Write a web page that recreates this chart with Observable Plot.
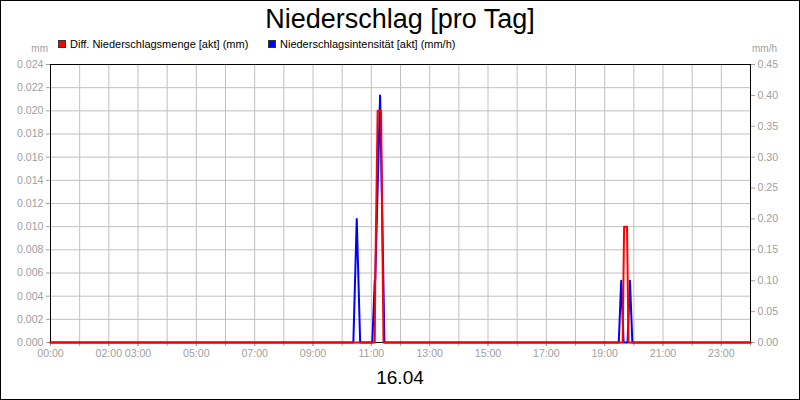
<!DOCTYPE html>
<html>
<head>
<meta charset="utf-8">
<script src="https://cdn.jsdelivr.net/npm/d3@7"></script>
<script src="https://cdn.jsdelivr.net/npm/@observablehq/plot@0.6"></script>
<style>
  html, body { margin: 0; padding: 0; background: white; }
  svg { display: block; }
</style>
</head>
<body>
<div id="chart"></div>
<script>
// ---- data ----
const titleText = "Niederschlag [pro Tag]";
const dateLabel = "16.04";
const seriesNames = ["Diff. Niederschlagsmenge [akt] (mm)", "Niederschlagsintensität [akt] (mm/h)"];
const leftUnit = "mm";
const rightUnit = "mm/h";

const redTimes  = ["00:00","11:07","11:08","11:13","11:20","11:25","19:37","19:40","19:46","19:49","24:00"];
const redValues = [0, 0, 0.0053, 0.02, 0.02, 0, 0, 0.01, 0.01, 0, 0];

const blueTimes  = ["00:00","10:23","10:30","10:37","11:02","11:07","11:08","11:18","11:27","19:29","19:34","19:39","19:47","19:52","19:57","24:00"];
const blueValues = [0, 0, 0.2, 0, 0, 0.1, 0.1, 0.4, 0, 0, 0.1, 0, 0, 0.1, 0, 0];

const leftTicks  = [0,0.002,0.004,0.006,0.008,0.010,0.012,0.014,0.016,0.018,0.020,0.022,0.024];
const rightTicks = [0,0.05,0.10,0.15,0.20,0.25,0.30,0.35,0.40,0.45];
const xLabels = ["00:00","02:00","03:00","05:00","07:00","09:00","11:00","13:00","15:00","17:00","19:00","21:00","23:00"];
const hours = d3.range(0, 25);

// ---- build ----
const parse = s => { const [h, m] = s.split(":").map(Number); return new Date(Date.UTC(2024, 3, 16, h, m)); };
const k = 0.024 / 0.45; // right-axis -> left-axis factor
const red = redTimes.map((t, i) => ({t: parse(t), v: redValues[i]}));
const blue = blueTimes.map((t, i) => ({t: parse(t), v: blueValues[i] * k}));
const hourTicks = hours.map(h => new Date(Date.UTC(2024, 3, 16, h, 0)));
const labelTicks = xLabels.map(parse);
const fmt = d3.utcFormat("%H:%M");
const gray = "#a0a0a0";
const font = "'Liberation Sans', Arial, sans-serif";

const chart = Plot.plot({
  width: 800, height: 400,
  marginTop: 64, marginBottom: 58, marginLeft: 50, marginRight: 50,
  style: {fontFamily: font, fontSize: "10.6px", background: "white"},
  x: {type: "utc", domain: [parse("00:00"), parse("24:00")]},
  y: {domain: [0, 0.024]},
  marks: [
    Plot.gridX(hourTicks, {stroke: "#c0c0c0", strokeOpacity: 1}),
    Plot.gridY(leftTicks, {stroke: "#c0c0c0", strokeOpacity: 1}),
    Plot.axisY(leftTicks, {anchor: "left", tickSize: 4, tickPadding: 3, tickFormat: d => d.toFixed(3), color: gray, label: null}),
    Plot.axisY(rightTicks.map(t => t * k), {anchor: "right", tickSize: 4, tickPadding: 3, tickFormat: d => (d / k).toFixed(2), color: gray, label: null}),
    Plot.axisX(hourTicks, {anchor: "bottom", tickSize: 4, tickPadding: 3, tickFormat: () => "", color: gray, label: null}),
    Plot.axisX(labelTicks, {anchor: "bottom", tickSize: 4, tickPadding: 3, tickFormat: fmt, color: gray, label: null}),
    Plot.frame({stroke: "black"}),
    Plot.line(blue, {x: "t", y: "v", stroke: "#0000ff", strokeWidth: 2}),
    Plot.line(red, {x: "t", y: "v", stroke: "#ff0000", strokeWidth: 2})
  ]
});

document.getElementById("chart").append(chart);

const svg = d3.select(chart);
svg.append("rect").attr("x", 0.5).attr("y", 0.5).attr("width", 799).attr("height", 399)
  .attr("fill", "none").attr("stroke", "black");
svg.append("text").attr("x", 400).attr("y", 28).attr("text-anchor", "middle")
  .attr("font-family", font).attr("font-size", 27).attr("fill", "black").text(titleText);
svg.append("text").attr("x", 400).attr("y", 384).attr("text-anchor", "middle")
  .attr("font-family", font).attr("font-size", 19).attr("fill", "black").text(dateLabel);
svg.append("text").attr("x", 48).attr("y", 52).attr("text-anchor", "end")
  .attr("font-family", font).attr("font-size", 10).attr("fill", gray).text(leftUnit);
svg.append("text").attr("x", 752).attr("y", 52).attr("text-anchor", "start")
  .attr("font-family", font).attr("font-size", 10).attr("fill", gray).text(rightUnit);

const legend = [{x: 58, color: "#ff0000", name: seriesNames[0]}, {x: 268, color: "#0000ff", name: seriesNames[1]}];
legend.forEach(l => {
  svg.append("rect").attr("x", l.x + 0.5).attr("y", 40.5).attr("width", 7).attr("height", 7)
    .attr("fill", l.color).attr("stroke", "#333").attr("stroke-width", 1);
  svg.append("text").attr("x", l.x + 12).attr("y", 48).attr("text-anchor", "start").attr("font-family", font)
    .attr("font-size", 11).attr("fill", "black").text(l.name);
});
</script>
</body>
</html>
